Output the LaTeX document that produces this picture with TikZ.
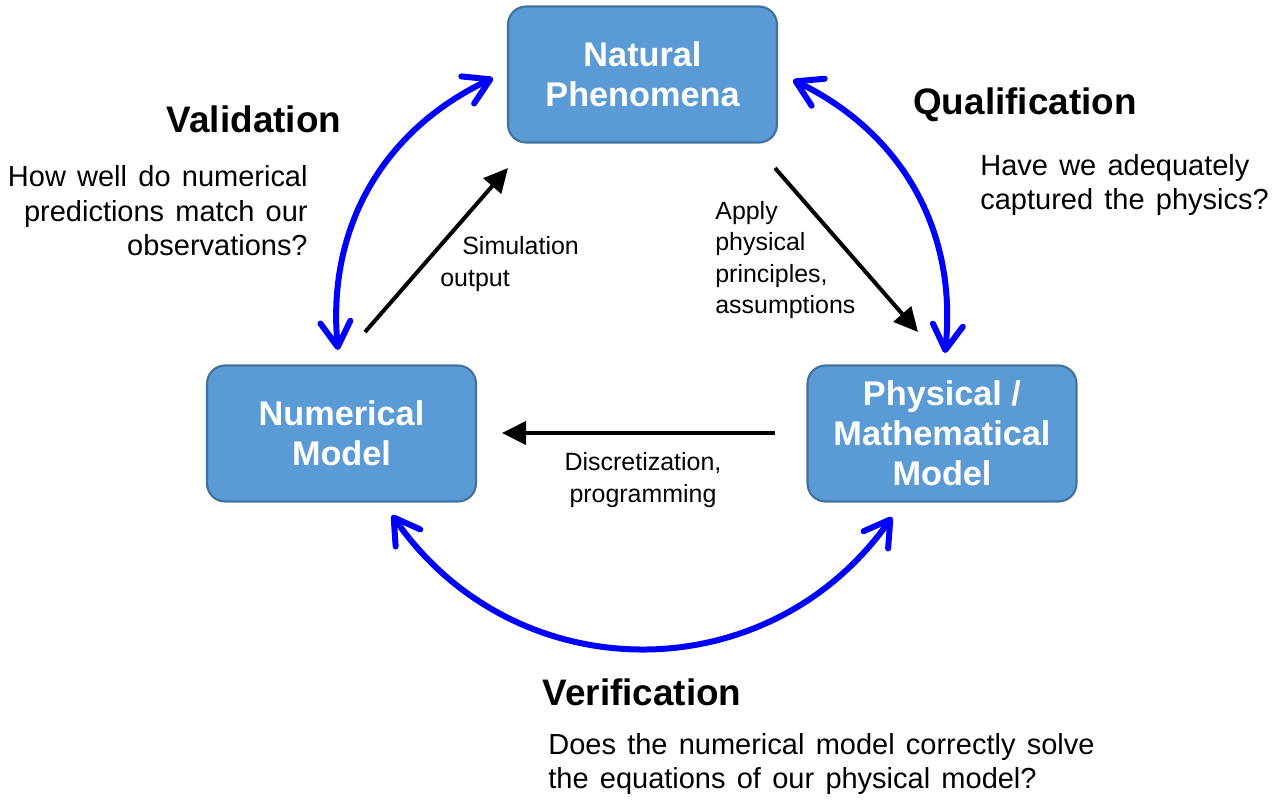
\documentclass[tikz,border=0pt]{standalone}
\usepackage{fontspec}
\setmainfont{Liberation Sans}
\newfontfamily\askfont[WordSpace=1.4]{Liberation Sans}
\usetikzlibrary{arrows.meta}
\definecolor{boxblue}{HTML}{5B9BD5}
\definecolor{boxedge}{HTML}{41719C}

\begin{document}
\begin{tikzpicture}[x=0.02cm,y=-0.02cm,
    modelbox/.style={draw=boxedge,line width=1.2pt,fill=boxblue,rounded corners=0.36cm,
        minimum width=5.38cm,minimum height=2.72cm,align=center,text=white,
        font=\fontsize{19.5}{22.7}\selectfont\bfseries},
    headtext/.style={inner sep=0pt,font=\fontsize{21}{25}\selectfont\bfseries},
    asktext/.style={inner sep=0pt,font=\askfont\fontsize{16.5}{19.6}\selectfont},
    steptext/.style={inner sep=0pt,font=\fontsize{14.2}{17.8}\selectfont},
    flowarrow/.style={line width=0.08cm,-{Triangle[length=0.48cm,width=0.46cm]}},
    checkarc/.style={blue,line width=0.12cm,
        {Straight Barb[length=0.5cm,width=0.6cm,line cap=round,line join=round]}-{Straight Barb[length=0.5cm,width=0.6cm,line cap=round,line join=round]}},
]
    \useasboundingbox (0,0) rectangle (1274,799);

    % the three models
    \node[modelbox] (nat) at (642.5,74.5) {Natural\\Phenomena};
    \node[modelbox] (num) at (341.5,433.5) {Numerical\\Model};
    \node[modelbox] (phys) at (942,433.5) {Physical /\\Mathematical\\Model};

    % black arrows round the cycle
    \coordinate (simS) at (365,332);
    \coordinate (simE) at (508,168);
    \coordinate (appS) at (775,168);
    \coordinate (appE) at (918,332);
    \coordinate (disS) at (775,433);
    \coordinate (disE) at (502,433);

    \draw[flowarrow] (simS) -- (simE);
    \draw[flowarrow] (appS) -- (appE);
    \draw[flowarrow] (disS) -- (disE);

    \node[steptext,anchor=west,align=left] (sim) at (440,264) {\hspace*{0.44cm}Simulation\\output};
    \node[steptext,anchor=west,align=left] (app) at (715,260) {Apply\\physical\\principles,\\assumptions};
    \node[steptext,align=center] (dis) at (643,480) {Discretization,\\programming};

    % blue double arcs
    \coordinate (valA) at (338,350);
    \coordinate (valB) at (493,78);
    \coordinate (quaA) at (793,80);
    \coordinate (quaB) at (945,353);
    \coordinate (verA) at (392,515);
    \coordinate (verB) at (892,517);

    \draw[checkarc] (valA) to[bend left=35] (valB);
    \draw[checkarc] (quaA) to[bend left=35] (quaB);
    \draw[checkarc] (verA) to[bend right=55,looseness=1.1] (verB);

    % headings and questions
    \node[headtext] (val) at (254,119) {Validation};
    \node[headtext] (qua) at (1025,105) {Qualification};
    \node[headtext] (ver) at (642,692) {Verification};

    \node[asktext,anchor=east,align=right] (valq) at (308,211) {How well do numerical\\predictions match our\\observations?};
    \node[asktext,anchor=west,align=left] (quaq) at (980,185) {Have we adequately\\captured the physics?};
    \node[asktext,anchor=west,align=left] (verq) at (548,764) {Does the numerical model correctly solve\\the equations of our physical model?};

\end{tikzpicture}
\end{document}
